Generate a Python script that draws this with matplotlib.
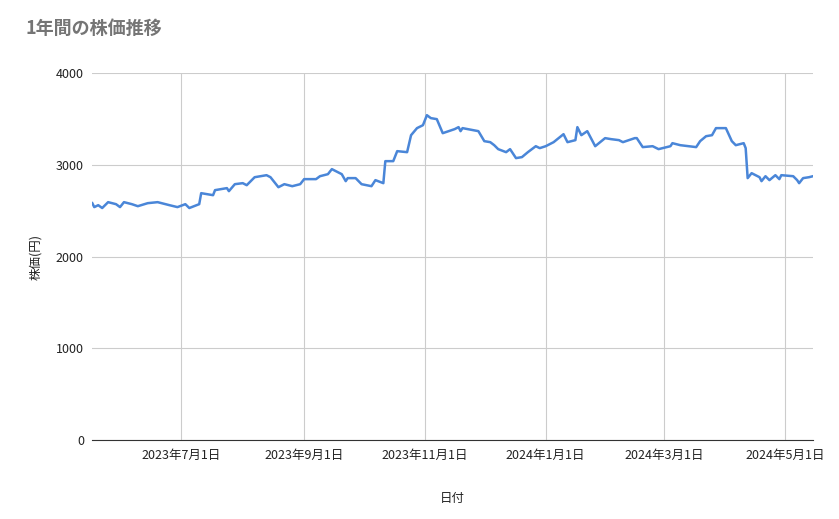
import matplotlib
matplotlib.use("Agg")
import matplotlib.pyplot as plt
import pandas as pd

plt.rcParams['font.family'] = ['Noto Sans CJK JP', 'DejaVu Sans']

dates = ["2023-05-17","2023-05-18","2023-05-20","2023-05-22","2023-05-25","2023-05-29","2023-05-31",
 "2023-06-02","2023-06-06","2023-06-09","2023-06-14","2023-06-19","2023-06-25","2023-06-29","2023-07-03",
 "2023-07-05","2023-07-10","2023-07-11","2023-07-17","2023-07-18","2023-07-24","2023-07-25","2023-07-28",
 "2023-08-01","2023-08-03","2023-08-07","2023-08-10","2023-08-13","2023-08-15","2023-08-19","2023-08-22",
 "2023-08-26","2023-08-30","2023-09-01","2023-09-07","2023-09-09","2023-09-13","2023-09-15","2023-09-20",
 "2023-09-22","2023-09-23","2023-09-27","2023-09-30","2023-10-05","2023-10-07","2023-10-11","2023-10-12",
 "2023-10-16","2023-10-18","2023-10-23","2023-10-25","2023-10-28","2023-10-31","2023-11-02","2023-11-04",
 "2023-11-07","2023-11-10","2023-11-16","2023-11-18","2023-11-19","2023-11-20","2023-11-28","2023-12-01",
 "2023-12-04","2023-12-06","2023-12-08","2023-12-12","2023-12-14","2023-12-17","2023-12-20","2023-12-23",
 "2023-12-27","2023-12-29","2024-01-01","2024-01-05","2024-01-10","2024-01-12","2024-01-16","2024-01-17",
 "2024-01-19","2024-01-22","2024-01-26","2024-01-31","2024-02-03","2024-02-07","2024-02-09","2024-02-15",
 "2024-02-16","2024-02-19","2024-02-24","2024-02-27","2024-03-04","2024-03-05","2024-03-09","2024-03-17",
 "2024-03-19","2024-03-22","2024-03-25","2024-03-27","2024-04-01","2024-04-04","2024-04-06","2024-04-10",
 "2024-04-11","2024-04-12","2024-04-14","2024-04-18","2024-04-19","2024-04-21","2024-04-23","2024-04-26",
 "2024-04-28","2024-04-29","2024-05-05","2024-05-07","2024-05-08","2024-05-10","2024-05-13","2024-05-15"]
prices = [2583,2540,2561,2530,2594,2572,2540,2594,2572,2550,2583,2594,2561,2540,2572,2530,2572,2692,2670,2725,
 2747,2714,2790,2801,2779,2866,2877,2888,2866,2757,2790,2768,2790,2845,2845,2877,2899,2954,2899,2823,2856,2856,
 2790,2768,2834,2801,3041,3041,3150,3139,3324,3401,3433,3542,3510,3499,3346,3390,3412,3368,3401,3368,3259,3248,
 3215,3172,3139,3172,3074,3085,3139,3204,3183,3204,3248,3335,3248,3270,3412,3324,3368,3204,3292,3281,3270,3248,
 3292,3292,3194,3204,3172,3204,3237,3215,3194,3259,3313,3324,3401,3401,3259,3215,3237,3183,2856,2910,2866,2823,
 2877,2834,2888,2845,2888,2877,2834,2801,2856,2866,2877]
tick_dates = ["2023-07-01","2023-09-01","2023-11-01","2024-01-01","2024-03-01","2024-05-01"]
tick_labels = ["2023年7月1日","2023年9月1日","2023年11月1日","2024年1月1日","2024年3月1日","2024年5月1日"]
yticks = [0, 1000, 2000, 3000, 4000]

x = pd.to_datetime(dates)
fig = plt.figure(figsize=(8.39, 5.19), dpi=100)
ax = fig.add_axes([0.110, 0.152, 0.859, 0.707])
ax.plot(x, prices, color="#4a86d8", lw=1.8)
ax.set_xlim(x[0], x[-1])
ax.set_ylim(0, 4000)
ax.set_yticks(yticks)
ax.set_yticklabels([str(v) for v in yticks], fontsize=9, color="#222222")
ax.set_xticks(pd.to_datetime(tick_dates))
ax.set_xticklabels(tick_labels, fontsize=9, color="#222222")
ax.grid(True, color="#cccccc", lw=0.8)
ax.tick_params(length=0, pad=6)
for s in ["top", "right", "left"]:
    ax.spines[s].set_visible(False)
ax.spines["bottom"].set_color("#333333")
ax.set_axisbelow(True)
ax.set_ylabel("株価(円)", fontsize=9, color="#222222", labelpad=10)
ax.set_xlabel("日付", fontsize=9, color="#222222", labelpad=22)
fig.text(0.030, 0.945, "1年間の株価推移", fontsize=13, color="#757575", fontweight="bold", va="center")
fig.savefig("out.png", dpi=100)
